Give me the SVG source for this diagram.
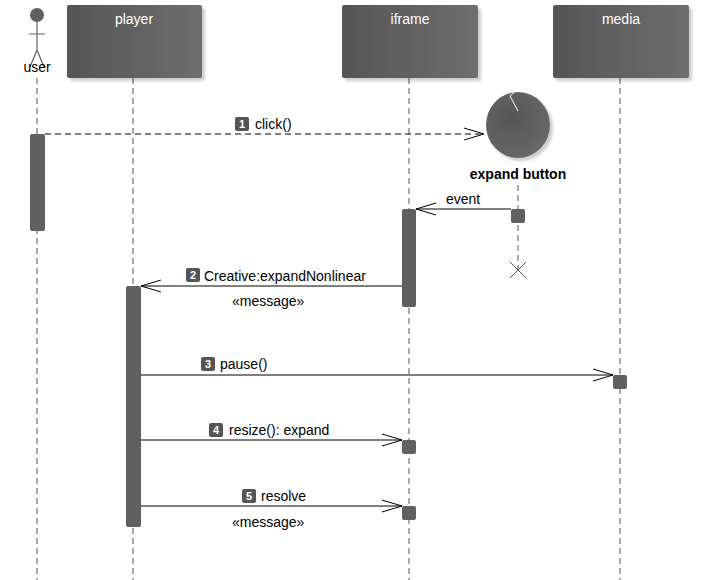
<svg xmlns="http://www.w3.org/2000/svg" width="714" height="580" viewBox="0 0 714 580">
<defs>
<linearGradient id="g" x1="0" x2="1" y1="0" y2="0"><stop offset="0" stop-color="#555"/><stop offset="1" stop-color="#6e6e6e"/></linearGradient>
<radialGradient id="rg" cx="0.4" cy="0.4" r="0.7"><stop offset="0" stop-color="#555"/><stop offset="1" stop-color="#6a6a6a"/></radialGradient>
<filter id="sh" x="-10%" y="-10%" width="130%" height="130%"><feDropShadow dx="3" dy="3" stdDeviation="1.5" flood-color="#000" flood-opacity="0.2"/></filter>
<marker id="oa" markerWidth="24" markerHeight="14" refX="22" refY="7" orient="auto" markerUnits="userSpaceOnUse"><path d="M2,1 L22,7 L2,13" fill="none" stroke="#000" stroke-width="1"/></marker>
</defs>
<style>
text{font-family:"Segoe UI","Liberation Sans","DejaVu Sans",sans-serif;font-size:14px;fill:#000}
.hd{fill:#fff;text-anchor:middle}
.life{stroke:#555;stroke-width:1;stroke-dasharray:6,4;fill:none}
.act{fill:#606060}
.msg{stroke:#000;stroke-width:1;fill:none;marker-end:url(#oa)}
.badge{fill:#555}
.bn{fill:#fff;font-size:11px;text-anchor:middle;font-weight:bold}
</style>
<rect width="714" height="580" fill="#fff"/>
<g id="lifelines">
<line class="life" x1="37" y1="78" x2="37" y2="580"/>
<line class="life" x1="133" y1="78" x2="133" y2="580"/>
<line class="life" x1="409" y1="78" x2="409" y2="580"/>
<line class="life" x1="620" y1="78" x2="620" y2="580"/>
<line class="life" x1="518" y1="185" x2="518" y2="270"/>
</g>
<g id="user">
<circle cx="37" cy="15" r="7" fill="#606060"/>
<path d="M37,22 V50 M29,34 H45 M37,50 L30,67 M37,50 L44,67" stroke="#606060" stroke-width="1.2" fill="none"/>
<text x="37" y="72" text-anchor="middle">user</text>
</g>
<g id="player"><rect x="67" y="5" width="135" height="73" rx="2" fill="url(#g)" filter="url(#sh)"/><text class="hd" x="134" y="24">player</text></g>
<g id="iframe"><rect x="342" y="5" width="136" height="73" rx="2" fill="url(#g)" filter="url(#sh)"/><text class="hd" x="410" y="24">iframe</text></g>
<g id="media"><rect x="553" y="5" width="136" height="73" rx="2" fill="url(#g)" filter="url(#sh)"/><text class="hd" x="621" y="24">media</text></g>
<g id="expand-button">
<ellipse cx="518" cy="125" rx="32" ry="33" fill="url(#rg)" filter="url(#sh)"/>
<path d="M528,114 L518,123 L526,138" fill="none" stroke="#fff" stroke-width="1" transform="translate(-8,-27) scale(1,1)"/>
<text x="518" y="179" text-anchor="middle" font-weight="bold">expand button</text>
<path d="M510,262 L526,278 M526,262 L510,278" stroke="#555" stroke-width="1"/>
</g>
<g id="activations">
<rect class="act" x="30" y="134" width="15" height="97" rx="2"/>
<rect class="act" x="402" y="209" width="14" height="98" rx="2"/>
<rect class="act" x="511" y="209" width="14" height="14" rx="2"/>
<rect class="act" x="126" y="286" width="15" height="241" rx="2"/>
<rect class="act" x="613" y="375" width="14" height="14" rx="2"/>
<rect class="act" x="402" y="440" width="14" height="14" rx="2"/>
<rect class="act" x="402" y="506" width="14" height="14" rx="2"/>
</g>
<g id="connectors">
<line class="msg" x1="45" y1="134" x2="484" y2="134" stroke-dasharray="6,4"/>
<line class="msg" x1="511" y1="209" x2="416" y2="209"/>
<line class="msg" x1="402" y1="286" x2="141" y2="286"/>
<line class="msg" x1="141" y1="375" x2="613" y2="375"/>
<line class="msg" x1="141" y1="440" x2="402" y2="440"/>
<line class="msg" x1="141" y1="506" x2="402" y2="506"/>
</g>
<g id="labels">
<rect class="badge" x="235" y="117" width="14" height="14" rx="2"/><text class="bn" x="242" y="128">1</text><text x="255" y="129">click()</text>
<text x="446" y="204">event</text>
<rect class="badge" x="186" y="268" width="14" height="14" rx="2"/><text class="bn" x="193" y="279">2</text><text x="204" y="281">Creative:expandNonlinear</text>
<text x="232" y="306">«message»</text>
<rect class="badge" x="201" y="357" width="14" height="14" rx="2"/><text class="bn" x="208" y="368">3</text><text x="220" y="369">pause()</text>
<rect class="badge" x="209" y="423" width="14" height="14" rx="2"/><text class="bn" x="216" y="434">4</text><text x="229" y="435">resize(): expand</text>
<rect class="badge" x="242" y="489" width="14" height="14" rx="2"/><text class="bn" x="249" y="500">5</text><text x="261" y="501">resolve</text>
<text x="232" y="527">«message»</text>
</g>
</svg>
